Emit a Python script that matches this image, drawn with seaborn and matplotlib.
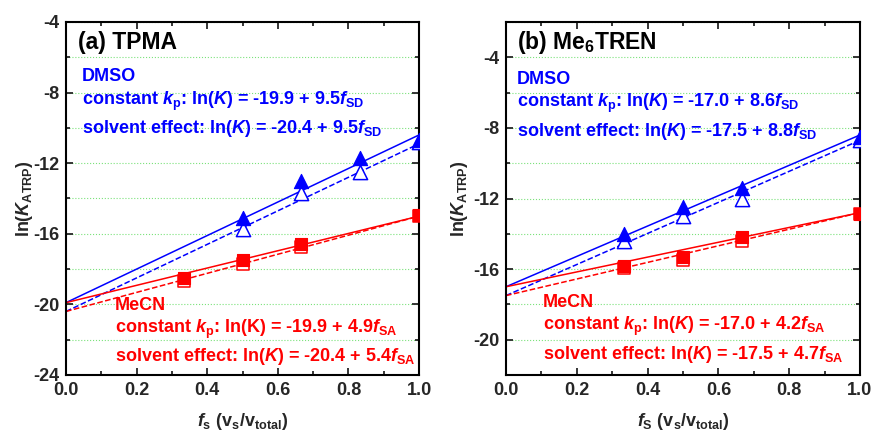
import numpy as np
import pandas as pd
import matplotlib
matplotlib.use("Agg")
import matplotlib.pyplot as plt
import seaborn as sns
from matplotlib.ticker import MultipleLocator

# ---- data ----
# (a) TPMA
a_fs_dmso = [0.5, 0.667, 0.833, 1.0]
a_dmso_kp = [-15.1, -13.0, -11.7, -10.7]
a_dmso_solv = [-15.7, -13.7, -12.5, -10.8]
a_fs_mecn = [0.333, 0.5, 0.667, 1.0]
a_mecn_kp = [-18.5, -17.5, -16.55, -14.95]
a_mecn_solv = [-18.65, -17.7, -16.75, -15.0]
# fitted lines (intercept, slope)
a_fit_dmso_kp = (-19.9, 9.5)
a_fit_dmso_solv = (-20.4, 9.5)
a_fit_mecn_kp = (-19.9, 4.9)
a_fit_mecn_solv = (-20.4, 5.4)

# (b) Me6TREN
b_fs_dmso = [0.333, 0.5, 0.667, 1.0]
b_dmso_kp = [-14.0, -12.5, -11.4, -8.5]
b_dmso_solv = [-14.4, -13.0, -12.0, -8.7]
b_fs_mecn = [0.333, 0.5, 0.667, 1.0]
b_mecn_kp = [-15.8, -15.3, -14.2, -12.85]
b_mecn_solv = [-15.95, -15.5, -14.4, -12.85]
b_fit_dmso_kp = (-17.0, 8.6)
b_fit_dmso_solv = (-17.5, 8.8)
b_fit_mecn_kp = (-17.0, 4.2)
b_fit_mecn_solv = (-17.5, 4.7)

BLUE = "#0000ff"
RED = "#ff0000"

sns.set_style("ticks")
plt.rcParams["font.family"] = ["Liberation Sans", "DejaVu Sans"]
plt.rcParams["font.weight"] = "bold"
plt.rcParams["axes.unicode_minus"] = False
plt.rcParams["mathtext.fontset"] = "custom"
plt.rcParams["mathtext.rm"] = "Liberation Sans:bold"
plt.rcParams["mathtext.it"] = "Liberation Sans:bold:italic"
plt.rcParams["mathtext.bf"] = "Liberation Sans:bold"
plt.rcParams["mathtext.default"] = "it"


def fit_line(ax, fit, color, ls):
    x = np.array([0.0, 1.0])
    df = pd.DataFrame({"x": x, "y": fit[0] + fit[1] * x})
    sns.lineplot(data=df, x="x", y="y", ax=ax, color=color, lw=1.1, ls=ls)


def points(ax, xs, ys, color, marker, filled):
    df = pd.DataFrame({"x": xs, "y": ys})
    size = 105 if marker == "^" else 72
    if filled:
        sns.scatterplot(data=df, x="x", y="y", ax=ax, marker=marker, s=size,
                        color=color, edgecolor=color, linewidth=0.8, zorder=5)
    else:
        sns.scatterplot(data=df, x="x", y="y", ax=ax, marker=marker, s=size,
                        facecolor="white", edgecolor=color, linewidth=1.1, zorder=4)


def style_axes(ax, ylim, ylab_x):
    ax.set_xlim(0, 1.0)
    ax.set_ylim(*ylim)
    ax.xaxis.set_minor_locator(MultipleLocator(0.1))
    ax.yaxis.set_major_locator(MultipleLocator(4))
    ax.yaxis.set_minor_locator(MultipleLocator(2))
    ax.set_xticks(np.arange(0, 1.01, 0.2))
    ax.set_xticklabels(["0.0", "0.2", "0.4", "0.6", "0.8", "1.0"])
    ax.tick_params(which="both", direction="in", top=True, right=True,
                   width=1.3, labelsize=13, pad=5)
    ax.tick_params(which="major", length=5)
    ax.tick_params(which="minor", length=3)
    for lab in ax.get_xticklabels() + ax.get_yticklabels():
        lab.set_fontweight("bold")
    for sp in ax.spines.values():
        sp.set_linewidth(1.5)
        sp.set_color("black")
    ax.grid(True, which="both", axis="y", color="#7be27b", ls=":", lw=0.8)
    ax.set_axisbelow(True)
    ax.set_ylabel(r"ln($K_\mathrm{ATRP}$)", fontsize=13, fontweight="bold")
    ax.yaxis.set_label_coords(ylab_x, 0.5)


fig = plt.figure(figsize=(8.73, 4.33), dpi=100)
ax1 = fig.add_axes([66 / 873, 58 / 433, 353 / 873, 353 / 433])
ax2 = fig.add_axes([506 / 873, 58 / 433, 354 / 873, 353 / 433])

# panel (a)
for fit, c, ls in [(a_fit_dmso_kp, BLUE, "-"), (a_fit_dmso_solv, BLUE, "--"),
                   (a_fit_mecn_kp, RED, "-"), (a_fit_mecn_solv, RED, "--")]:
    fit_line(ax1, fit, c, ls)
points(ax1, a_fs_dmso, a_dmso_solv, BLUE, "^", False)
points(ax1, a_fs_dmso, a_dmso_kp, BLUE, "^", True)
points(ax1, a_fs_mecn, a_mecn_solv, RED, "s", False)
points(ax1, a_fs_mecn, a_mecn_kp, RED, "s", True)
style_axes(ax1, (-24, -4), -0.088)
ax1.set_xlabel(r"$f_\mathrm{s}$ (v$_\mathrm{s}$/v$_\mathrm{total}$)", fontsize=13,
               fontweight="bold", labelpad=9)

tk = dict(transform=ax1.transAxes, fontsize=13, fontweight="bold", va="center")
ax1.text(0.034, 0.943, "(a) TPMA", transform=ax1.transAxes, fontsize=16.5,
         fontweight="bold", va="center", color="black")
ax1.text(0.045, 0.845, "DMSO", color=BLUE, **tk)
ax1.text(0.045, 0.775, r"constant $k_\mathrm{p}$: ln($K$) = %.1f + %.1f$f_\mathrm{SD}$"
         % a_fit_dmso_kp, color=BLUE, **tk)
ax1.text(0.045, 0.699, r"solvent effect: ln($K$) = %.1f + %.1f$f_\mathrm{SD}$"
         % a_fit_dmso_solv, color=BLUE, **tk)
ax1.text(0.139, 0.198, "MeCN", color=RED, **tk)
ax1.text(0.139, 0.128, r"constant $k_\mathrm{p}$: ln(K) = %.1f + %.1f$f_\mathrm{SA}$"
         % a_fit_mecn_kp, color=RED, **tk)
ax1.text(0.139, 0.052, r"solvent effect: ln($K$) = %.1f + %.1f$f_\mathrm{SA}$"
         % a_fit_mecn_solv, color=RED, **tk)

# panel (b)
for fit, c, ls in [(b_fit_dmso_kp, BLUE, "-"), (b_fit_dmso_solv, BLUE, "--"),
                   (b_fit_mecn_kp, RED, "-"), (b_fit_mecn_solv, RED, "--")]:
    fit_line(ax2, fit, c, ls)
points(ax2, b_fs_dmso, b_dmso_solv, BLUE, "^", False)
points(ax2, b_fs_dmso, b_dmso_kp, BLUE, "^", True)
points(ax2, b_fs_mecn, b_mecn_solv, RED, "s", False)
points(ax2, b_fs_mecn, b_mecn_kp, RED, "s", True)
style_axes(ax2, (-22, -2), -0.102)
ax2.set_xlabel(r"$f_\mathrm{S}$ (v$_\mathrm{s}$/v$_\mathrm{total}$)", fontsize=13,
               fontweight="bold", labelpad=9)

tk = dict(transform=ax2.transAxes, fontsize=13, fontweight="bold", va="center")
ax2.text(0.031, 0.943, r"(b) Me$_\mathrm{6}$TREN", transform=ax2.transAxes, fontsize=16.5,
         fontweight="bold", va="center", color="black")
ax2.text(0.031, 0.836, "DMSO", color=BLUE, **tk)
ax2.text(0.031, 0.769, r"constant $k_\mathrm{p}$: ln($K$) = %.1f + %.1f$f_\mathrm{SD}$"
         % b_fit_dmso_kp, color=BLUE, **tk)
ax2.text(0.031, 0.690, r"solvent effect: ln($K$) = %.1f + %.1f$f_\mathrm{SD}$"
         % b_fit_dmso_solv, color=BLUE, **tk)
ax2.text(0.105, 0.206, "MeCN", color=RED, **tk)
ax2.text(0.105, 0.137, r"constant $k_\mathrm{p}$: ln($K$) = %.1f + %.1f$f_\mathrm{SA}$"
         % b_fit_mecn_kp, color=RED, **tk)
ax2.text(0.105, 0.058, r"solvent effect: ln($K$) = %.1f + %.1f$f_\mathrm{SA}$"
         % b_fit_mecn_solv, color=RED, **tk)

fig.savefig("out.png", dpi=100)
